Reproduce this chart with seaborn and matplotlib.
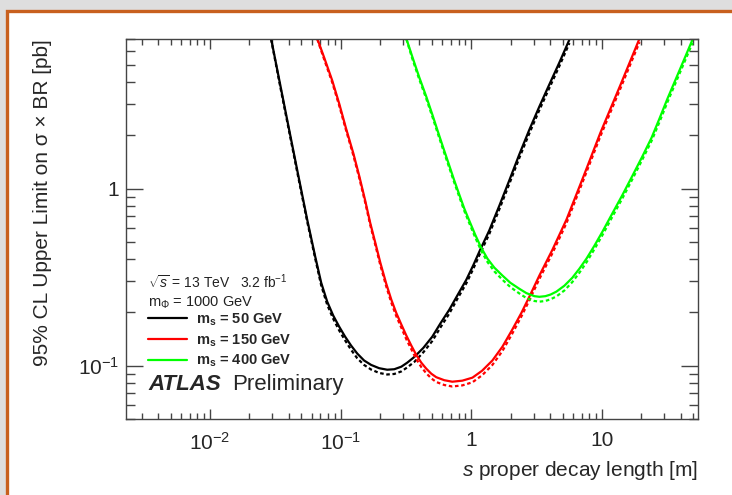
import numpy as np
import pandas as pd
import seaborn as sns
import matplotlib
matplotlib.use('Agg')
import matplotlib.pyplot as plt
from matplotlib.lines import Line2D
from matplotlib.patches import Rectangle
from matplotlib.ticker import LogLocator, NullFormatter, FuncFormatter

# values (proper decay length [m], limit [pb])
x_50 = [0.0293, 0.0344, 0.0403, 0.0472, 0.0554, 0.0638, 0.0709, 0.0788, 0.0876, 0.0974,
        0.108, 0.120, 0.134, 0.151, 0.171, 0.197, 0.227, 0.257, 0.291, 0.323,
        0.366, 0.429, 0.503, 0.579, 0.678, 0.781, 0.916, 1.04, 1.17, 1.37,
        1.64, 1.96, 2.33, 2.78, 3.32, 3.89, 4.72, 5.64]
obs_50 = [7.04, 3.87, 2.15, 1.20, 0.668, 0.413, 0.294, 0.230, 0.192, 0.166,
          0.146, 0.130, 0.117, 0.107, 0.101, 0.0968, 0.0949, 0.0955, 0.0987, 0.104,
          0.112, 0.126, 0.146, 0.173, 0.207, 0.249, 0.306, 0.372, 0.452, 0.579,
          0.802, 1.12, 1.56, 2.15, 2.91, 3.77, 5.15, 6.95]
exp_50 = [6.99, 3.78, 2.10, 1.17, 0.651, 0.403, 0.284, 0.221, 0.184, 0.158,
          0.139, 0.123, 0.110, 0.101, 0.0951, 0.0910, 0.0892, 0.0898, 0.0928, 0.0978,
          0.105, 0.119, 0.138, 0.164, 0.197, 0.238, 0.292, 0.355, 0.432, 0.553,
          0.766, 1.07, 1.49, 2.05, 2.78, 3.60, 4.92, 6.64]

x_150 = [0.0661, 0.0747, 0.0861, 0.0974, 0.110, 0.125, 0.139, 0.154, 0.168, 0.184,
         0.201, 0.223, 0.244, 0.266, 0.291, 0.318, 0.347, 0.379, 0.414, 0.452,
         0.494, 0.539, 0.621, 0.715, 0.853, 1.02, 1.21, 1.45, 1.73, 2.06,
         2.42, 2.78, 3.32, 4.18, 5.35, 7.22, 9.74, 13.9, 19.4]
obs_150 = [7.04, 5.50, 4.08, 3.02, 2.18, 1.58, 1.17, 0.856, 0.643, 0.495,
           0.382, 0.291, 0.236, 0.199, 0.171, 0.148, 0.130, 0.115, 0.104, 0.0962,
           0.0901, 0.0861, 0.0828, 0.0812, 0.0823, 0.0856, 0.0937, 0.107, 0.128, 0.160,
           0.199, 0.245, 0.323, 0.452, 0.668, 1.17, 2.07, 3.87, 7.04]
exp_150 = [6.99, 5.37, 3.98, 2.94, 2.13, 1.54, 1.14, 0.835, 0.627, 0.481,
           0.370, 0.281, 0.227, 0.191, 0.164, 0.141, 0.124, 0.109, 0.0982, 0.0906,
           0.0848, 0.0809, 0.0778, 0.0763, 0.0774, 0.0806, 0.0883, 0.101, 0.121, 0.152,
           0.190, 0.234, 0.309, 0.432, 0.638, 1.12, 1.98, 3.70, 6.72]

x_400 = [0.318, 0.353, 0.400, 0.452, 0.503, 0.549, 0.610, 0.667, 0.741, 0.809,
         0.884, 0.965, 1.07, 1.19, 1.33, 1.50, 1.73, 1.99, 2.33, 2.64,
         3.04, 3.32, 3.69, 4.03, 4.48, 5.16, 5.94, 6.72, 7.61, 8.76,
         10.1, 12.0, 14.4, 17.1, 20.4, 24.0, 27.6, 31.8, 37.2, 42.9, 49.4]
obs_400 = [7.04, 5.57, 4.24, 3.31, 2.62, 2.15, 1.70, 1.40, 1.11, 0.925,
           0.771, 0.659, 0.550, 0.464, 0.402, 0.358, 0.323, 0.294, 0.272, 0.257,
           0.247, 0.245, 0.247, 0.252, 0.262, 0.283, 0.314, 0.353, 0.402, 0.476,
           0.572, 0.723, 0.925, 1.18, 1.52, 1.94, 2.49, 3.23, 4.24, 5.43, 6.95]
exp_400 = [6.99, 5.43, 4.13, 3.22, 2.55, 2.09, 1.65, 1.36, 1.08, 0.899,
           0.748, 0.638, 0.531, 0.446, 0.385, 0.341, 0.306, 0.278, 0.256, 0.241,
           0.232, 0.230, 0.232, 0.237, 0.246, 0.266, 0.297, 0.335, 0.383, 0.455,
           0.547, 0.692, 0.886, 1.13, 1.46, 1.86, 2.38, 3.09, 4.06, 5.20, 6.65]

masses = ['50', '150', '400']
colors = {'50': 'black', '150': '#ff0000', '400': '#00ff00'}

rows = []
for m, xs, ob, ex in [('50', x_50, obs_50, exp_50), ('150', x_150, obs_150, exp_150),
                      ('400', x_400, obs_400, exp_400)]:
    for xv, o, e in zip(xs, ob, ex):
        rows.append((m, 'Observed', xv, o))
        rows.append((m, 'Expected', xv, e))
df = pd.DataFrame(rows, columns=['mass', 'kind', 'length', 'limit'])

sns.set_style('ticks')
plt.rcParams['font.family'] = ['Liberation Sans', 'DejaVu Sans']
plt.rcParams['mathtext.fontset'] = 'custom'
plt.rcParams['mathtext.rm'] = 'Liberation Sans'
plt.rcParams['mathtext.it'] = 'Liberation Sans:italic'
plt.rcParams['mathtext.bf'] = 'Liberation Sans:bold'

fig = plt.figure(figsize=(7.32, 4.95), dpi=100)
fig.patch.set_facecolor('#dedede')
fig.add_artist(Rectangle((6.5 / 732, -0.05), 1.2, 1 - 10.5 / 495 + 0.05,
                         transform=fig.transFigure, facecolor='white',
                         edgecolor='#c8601e', linewidth=2.4, zorder=-1))

ax = fig.add_axes([126 / 732, 76 / 495, 572 / 732, 380 / 495])
ax.set_facecolor('white')

sns.lineplot(data=df, x='length', y='limit', hue='mass', style='kind',
             palette=colors, dashes={'Observed': '', 'Expected': (1.6, 1.2)},
             estimator=None, errorbar=None, linewidth=1.6, legend=False, ax=ax)

ax.set_xscale('log')
ax.set_yscale('log')
ax.set_xlim(0.00227, 54.4)
ax.set_ylim(0.05, 7.0)

ax.xaxis.set_minor_locator(LogLocator(base=10, subs=np.arange(2, 10)))
ax.yaxis.set_minor_locator(LogLocator(base=10, subs=np.arange(2, 10)))
ax.xaxis.set_minor_formatter(NullFormatter())
ax.yaxis.set_minor_formatter(NullFormatter())


def fmt(v, pos):
    if abs(v - 1) < 1e-9:
        return '1'
    if abs(v - 10) < 1e-9:
        return '10'
    return r'$10^{%d}$' % int(round(np.log10(v)))


ax.xaxis.set_major_formatter(FuncFormatter(fmt))
ax.yaxis.set_major_formatter(FuncFormatter(fmt))

for sp in ax.spines.values():
    sp.set_color('#444444')
    sp.set_linewidth(1.0)
ax.xaxis.set_tick_params(which='major', direction='in', length=7.5, width=1, color='#444444',
                         top=True, bottom=True, labelsize=15, pad=9)
ax.xaxis.set_tick_params(which='minor', direction='in', length=4, width=1, color='#444444',
                         top=True, bottom=True)
ax.yaxis.set_tick_params(which='major', direction='in', length=12.5, width=1, color='#444444',
                         left=True, right=True, labelsize=15, pad=5)
ax.yaxis.set_tick_params(which='minor', direction='in', length=6.5, width=1, color='#444444',
                         left=True, right=True)

ax.set_xlabel(r'$s$ proper decay length [m]', fontsize=15, loc='right')
ax.xaxis.set_label_coords(1.0, -0.105)
ax.set_ylabel('95% CL Upper Limit on σ × BR [pb]', fontsize=15, loc='top')
ax.yaxis.set_label_coords(-0.129, 1.0)

ax.text(0.0385, 0.345, r'$\sqrt{s}$ = 13 TeV   3.2 fb$^{-1}$', transform=ax.transAxes,
        fontsize=10, va='baseline', color='#222222')
ax.text(0.0385, 0.295, r'm$_{\Phi}$ = 1000 GeV', transform=ax.transAxes,
        fontsize=10.5, va='baseline', color='#222222')

handles = [Line2D([], [], color=colors[m], linewidth=1.6) for m in masses]
labels = [r'm$_\mathbf{s}$ = %s GeV' % m for m in masses]
ax.legend(handles, labels, loc='upper left', bbox_to_anchor=(0.0385, 0.283),
          frameon=False, borderpad=0, borderaxespad=0, handlelength=2.7,
          handletextpad=0.6, labelspacing=0.3, prop={'weight': 'bold', 'size': 10.5})

ax.text(0.0385, 0.076, 'ATLAS', transform=ax.transAxes, fontsize=16,
        fontweight='bold', fontstyle='italic', va='baseline')
ax.text(0.185, 0.076, 'Preliminary', transform=ax.transAxes, fontsize=16,
        va='baseline')

fig.savefig('out.png', dpi=100)
